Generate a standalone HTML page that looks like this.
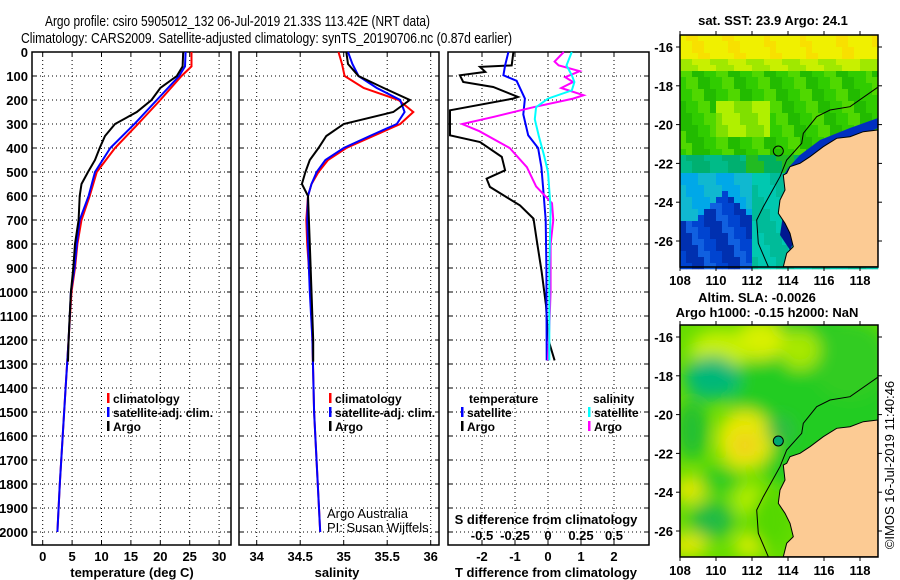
<!DOCTYPE html>
<html><head><meta charset="utf-8"><style>
body{margin:0;background:#fff}
svg{display:block;font-family:"Liberation Sans",sans-serif}
.t{font-size:13px;font-weight:bold}
.lg{font-size:12px;font-weight:bold}
</style></head><body>
<svg id="s" width="900" height="580" xmlns="http://www.w3.org/2000/svg">
<rect width="900" height="580" fill="#fff"/>
<text x="45" y="26" font-size="15" textLength="385" lengthAdjust="spacingAndGlyphs">Argo profile: csiro 5905012_132 06-Jul-2019 21.33S 113.42E (NRT data)</text>
<text x="21" y="43" font-size="15" textLength="491" lengthAdjust="spacingAndGlyphs">Climatology: CARS2009. Satellite-adjusted climatology: synTS_20190706.nc (0.87d earlier)</text>
<g id="p1"></g>
<g id="p2"></g>
<g id="p3"></g>
<g id="m1"></g>
<g id="m2"></g>
<text x="773" y="25" text-anchor="middle" class="t">sat. SST: 23.9 Argo: 24.1</text>
<text x="757" y="302" text-anchor="middle" class="t">Altim. SLA: -0.0026</text>
<text x="767" y="317" text-anchor="middle" class="t">Argo h1000: -0.15 h2000: NaN</text>
<text transform="translate(894,465) rotate(-90)" text-anchor="middle" font-size="13">©IMOS 16-Jul-2019 11:40:46</text>
</svg>
<script>
// ---- data ----
const tempDepths   = [0,60,100,200,300,400,500,600,700,800,900,1000,1200,1400,1600,1800,2000];
const tempClim     = [25.3,25.3,23.6,20.0,16.2,12.3,9.2,8.0,6.6,5.9,5.5,4.9,4.4,3.9,3.4,2.9,2.5];
const tempSat      = [24.3,24.2,23.2,19.4,15.6,11.5,8.9,7.8,6.3,5.8,5.4,4.8,4.4,3.9,3.4,2.9,2.5];
const argoDepths   = [0,60,100,150,200,250,300,350,400,450,500,550,600,700,800,900,1000,1100,1200,1290];
const tempArgo     = [23.9,23.8,22.8,20.0,18.5,16.0,12.3,10.6,9.7,8.9,7.7,6.6,6.3,6.1,5.5,5.2,4.8,4.6,4.4,4.3];
const salDepths    = [0,50,100,150,200,250,300,350,400,450,500,550,600,700,800,1000,1200,1500,2000];
const salClim      = [34.94,34.98,35.01,35.23,35.63,35.80,35.65,35.34,35.03,34.82,34.71,34.63,34.59,34.57,34.58,34.62,34.64,34.66,34.73];
const salSat       = [35.05,35.10,35.17,35.38,35.65,35.70,35.61,35.30,35.00,34.79,34.69,34.63,34.59,34.58,34.59,34.61,34.64,34.66,34.73];
const salArgo      = [35.03,35.05,35.17,35.46,35.76,35.57,35.00,34.80,34.71,34.61,34.56,34.52,34.59,34.60,34.61,34.63,34.65,34.65,34.65];
const salArgoDepth = [0,50,100,150,200,250,300,350,400,450,500,550,600,700,800,1000,1200,1250,1290];
const dTDepths     = [0,56,62,83,97,125,146,187,194,243,347,375,437,493,528,562,639,694,778,917,1056,1194,1285];
const dTArgo       = [-1.05,-1.1,-2.06,-1.9,-2.67,-2.57,-1.66,-0.91,-1.06,-2.97,-2.97,-2.06,-1.4,-1.3,-1.86,-1.76,-0.85,-0.44,-0.35,-0.19,-0.06,0,0.2];
const dTSatDepths  = [0,56,97,120,194,260,347,400,480,560,700,900,1285];
const dTSat        = [-1.2,-1.3,-1.35,-0.95,-0.7,-0.75,-0.6,-0.3,-0.2,-0.15,-0.07,-0.05,-0.04];
const dSDepths     = [0,40,56,80,105,125,150,180,194,230,270,300,330,400,480,560,630,700,800,1000,1285];
const dSArgo       = [0.12,0.05,0.08,0.24,0.13,0.19,0.1,0.27,0.19,-0.11,-0.41,-0.65,-0.52,-0.29,-0.16,-0.09,0.03,0.04,0.02,0.02,0];
const dSSatDepths  = [0,56,97,125,160,194,230,280,350,430,500,650,900,1285];
const dSSat        = [0.18,0.14,0.18,0.2,0.18,0,-0.09,-0.1,-0.07,-0.03,0,0.02,0.01,0.01];
const tempTicks = [0,5,10,15,20,25,30];
const salTicks  = [34,34.5,35,35.5,36];
const dTTicks   = [-2,-1,0,1,2];
const dSTicks   = [-0.5,-0.25,0,0.25,0.5];
const depthTicks = [0,100,200,300,400,500,600,700,800,900,1000,1100,1200,1300,1400,1500,1600,1700,1800,1900,2000];
const lonTicks = [108,110,112,114,116,118];
const latTicks = [-16,-18,-20,-22,-24,-26];

const NS='http://www.w3.org/2000/svg';
function mk(tag,attrs,parent,txt){const e=document.createElementNS(NS,tag);for(const k in attrs)e.setAttribute(k,attrs[k]);if(txt!==undefined)e.textContent=txt;parent.appendChild(e);return e;}
const yD=d=>52+0.24*d;
const xT=t=>42.7+5.88*t;
const xS=s=>256.7+87*(s-34);
const xdT=t=>548+33*t;
const xdS=s=>548+132*s;
const TOP=52,BOT=545;

function frame(g,x0,x1,xt,ticks,fmt,hgrid){
  hgrid.forEach(d=>{const y=yD(d);const l=mk('line',{x1:x0,x2:x1,y1:y,y2:y,stroke:'#000','stroke-dasharray':'1,3'},g);
  
  mk('line',{x1:x0,x2:x0+4,y1:y,y2:y,stroke:'#000'},g);mk('line',{x1:x1-4,x2:x1,y1:y,y2:y,stroke:'#000'},g);});
  ticks.forEach(v=>{const x=xt(v);const l=mk('line',{x1:x,x2:x,y1:TOP,y2:BOT,stroke:'#000','stroke-dasharray':'1,3'},g);
  
  mk('line',{x1:x,x2:x,y1:BOT-4,y2:BOT,stroke:'#000'},g);mk('line',{x1:x,x2:x,y1:TOP,y2:TOP+4,stroke:'#000'},g);
  if(fmt){const t=mk('text',{x:x,y:561,'text-anchor':'middle',class:'t'},g,fmt(v));}});
  const r=mk('rect',{x:x0,y:TOP,width:x1-x0,height:BOT-TOP,fill:'none',stroke:'#000','stroke-width':1.5},g);
  
}
function line(g,xs,ds,xf,col,name){const pts=xs.map((v,i)=>xf(v).toFixed(1)+','+yD(ds[i]).toFixed(1)).join(' ');
  const p=mk('polyline',{points:pts,fill:'none',stroke:col,'stroke-width':2},g);
  }
function legend(g,x,y,items){items.forEach((it,i)=>{mk('rect',{x:x,y:y+i*14-10,width:2.5,height:10,fill:it[1]},g);
  const t=mk('text',{x:x+6,y:y+i*14,class:'lg'},g,it[0]);});}

const p1=document.getElementById('p1');
frame(p1,32,231,xT,tempTicks,v=>v,depthTicks);
depthTicks.forEach(d=>{const t=mk('text',{x:28,y:yD(d)+5,'text-anchor':'end',class:'t'},p1,d);});
line(p1,tempClim,tempDepths,xT,'#f00','temp-climatology-line');
line(p1,tempSat,tempDepths,xT,'#00f','temp-satellite-line');
line(p1,tempArgo,argoDepths,xT,'#000','temp-argo-line');
legend(p1,107,403,[['climatology','#f00'],['satellite-adj. clim.','#00f'],['Argo','#000']]);
mk('text',{x:132,y:577,'text-anchor':'middle',class:'t',},p1,'temperature (deg C)');

const p2=document.getElementById('p2');
frame(p2,239,439,xS,salTicks,v=>v,depthTicks);
line(p2,salClim,salDepths,xS,'#f00','sal-climatology-line');
line(p2,salSat,salDepths,xS,'#00f','sal-satellite-line');
line(p2,salArgo,salArgoDepth,xS,'#000','sal-argo-line');
legend(p2,329,403,[['climatology','#f00'],['satellite-adj. clim.','#00f'],['Argo','#000']]);
mk('text',{x:327,y:518,'font-size':13,},p2,'Argo Australia');
mk('text',{x:327,y:532,'font-size':13,},p2,'PI: Susan Wijffels');
mk('text',{x:337,y:577,'text-anchor':'middle',class:'t',},p2,'salinity');

const p3=document.getElementById('p3');
frame(p3,448,649,xdT,dTTicks,v=>v,depthTicks);
line(p3,dTArgo,dTDepths,xdT,'#000','dT-argo-line');
line(p3,dTSat,dTSatDepths,xdT,'#00f','dT-satellite-line');
line(p3,dSArgo,dSDepths,xdS,'#f0f','dS-argo-line');
line(p3,dSSat,dSSatDepths,xdS,'#0ff','dS-satellite-line');
mk('text',{x:469,y:403,class:'lg'},p3,'temperature');
legend(p3,461,417,[['satellite','#00f'],['Argo','#000']]);
mk('text',{x:593,y:403,class:'lg'},p3,'salinity');
legend(p3,588,417,[['satellite','#0ff'],['Argo','#f0f']]);
mk('text',{x:546,y:524,'text-anchor':'middle',class:'t',},p3,'S difference from climatology');
dSTicks.forEach(v=>{const t=mk('text',{x:xdS(v),y:540,'text-anchor':'middle',class:'t'},p3,v);});
mk('text',{x:546,y:577,'text-anchor':'middle',class:'t',},p3,'T difference from climatology');

// ---- maps ----
const MX0=680,MX1=878;
const lonX=l=>680+18*(l-108);
const latY=(l,oy)=>oy+47+19.4*(-16-l);
function sstColor(x,y){
  const h=((x*7919+y*104729)%97)/97;
  let c;
  if(y<58)c=h<0.3?'#f8e000':'#f0f000';
  else if(y<68)c=h<0.5?'#c8f000':'#a0e800';
  else if(y<150){
    if(x>715&&x<770&&y>95&&y<135)c=h<0.5?'#b0f000':'#80e000';
    else c=h<0.35?'#30cc00':(h<0.7?'#22bb00':'#50d800');
  }
  else if(y<172)c=x<745?(h<0.5?'#00bb88':'#00b070'):(h<0.5?'#22bb22':'#00b060');
  else {
    const dark=x<752&&(y>190+0.9*Math.abs(x-722)||(x<705&&y>215));
    if(dark)c=h<0.4?'#0030b0':(h<0.7?'#0044d0':'#1060e0');
    else if(x<750)c=h<0.5?'#00a8e8':'#10b8d0';
    else c=h<0.5?'#00c8b0':'#00bb99';
  }
  return c;
}
const land=[[877.7,130],[863.3,131.7],[850,136.7],[836.7,138.3],[823.3,146.7],[810,156.7],[800,163.3],[790,166.7],[786.7,173.3],[783.3,175],[785,190],[780,200],[778.3,213.3],[785,223.3],[790,233.3],[793.3,246.7],[786.7,253.3],[783.3,266.7],[878,266.7]];
const contour=[[877.7,87.3],[850,106.7],[830,110],[816.7,116.7],[803.3,133.3],[801.7,143.3],[786.7,160],[780,176.7],[763.3,206.7],[756.7,220],[758.3,243.3],[768.3,266.7]];
function mapFrame(g,oy){
  const pts=a=>a.map(p=>p[0]+','+(p[1]+oy)).join(' ');
  mk('polyline',{points:pts(contour),fill:'none',stroke:'#000','stroke-width':1},g);
  const l=mk('polygon',{points:pts(land),fill:'#fccb94',stroke:'#000','stroke-width':1},g);
  
  const c=mk('circle',{cx:778.3,cy:151+oy,r:5,fill:'none',stroke:'#000','stroke-width':1},g);
  
  mk('rect',{x:MX0,y:35+oy,width:MX1-MX0,height:232,fill:'none',stroke:'#000','stroke-width':1.5},g);
  lonTicks.forEach(v=>{const x=lonX(v);mk('line',{x1:x,x2:x,y1:267+oy,y2:271+oy,stroke:'#000'},g);mk('line',{x1:x,x2:x,y1:31+oy,y2:35+oy,stroke:'#000'},g);
    const t=mk('text',{x:x,y:285+oy,'text-anchor':'middle',class:'t'},g,v);});
  latTicks.forEach(v=>{const y=latY(v,oy);mk('line',{x1:676,x2:680,y1:y,y2:y,stroke:'#000'},g);mk('line',{x1:878,x2:882,y1:y,y2:y,stroke:'#000'},g);
    const t=mk('text',{x:673,y:y+5,'text-anchor':'end',class:'t'},g,v);});
}
const m1=document.getElementById('m1');
for(let y=35;y<267;y+=6)for(let x=680;x<878;x+=6){mk('rect',{x:x,y:y,width:6.3,height:6.3,fill:sstColor(x,y)},m1);}
mk('polygon',{points:'878,118 850,128 820,140 800,155 788,168 784,175 790,175 805,166 825,152 850,140 878,128',fill:'#0030c0'},m1);
mk('polygon',{points:'783,215 780,235 790,250 795,240 790,222',fill:'#001890'},m1);
mapFrame(m1,0);

const m2=document.getElementById('m2');
const defs=mk('defs',{},m2);
const f=mk('filter',{id:'bl',x:'-50%',y:'-50%',width:'200%',height:'200%'},defs);
mk('feGaussianBlur',{stdDeviation:8},f);
const cp=mk('clipPath',{id:'mc'},defs);
mk('rect',{x:680,y:325,width:198,height:232},cp);
const mg=mk('g',{'clip-path':'url(#mc)'},m2);
mk('rect',{x:680,y:325,width:198,height:232,fill:'#66dd00'},mg);
const bg=mk('g',{filter:'url(#bl)'},mg);
[[810,400,80,90,'#22cc22'],[850,360,40,40,'#33cc22'],[760,340,25,20,'#d8f000'],[720,350,30,20,'#c8f000'],[745,440,28,30,'#e8e800'],[745,445,12,12,'#f0d020'],
 [712,378,28,22,'#00b878'],[692,430,16,30,'#22c030'],[690,490,16,14,'#e0e800'],[720,480,20,14,'#33cc22'],[712,520,22,18,'#22bb44'],[750,500,16,16,'#b8ee00'],
 [688,545,20,12,'#e0e800'],[750,545,16,12,'#d8ee00'],[780,430,14,14,'#33bb44'],[800,350,20,20,'#a8e800'],[770,520,20,30,'#55d800']].forEach(b=>{
  mk('ellipse',{cx:b[0],cy:b[1],rx:b[2],ry:b[3],fill:b[4]},bg);});
mk('circle',{cx:778.3,cy:441,r:5,fill:'#00a870'},mg);
mapFrame(m2,290);
</script>
</body></html>
